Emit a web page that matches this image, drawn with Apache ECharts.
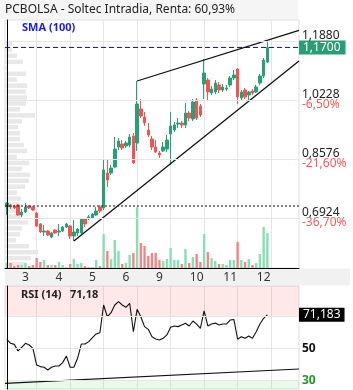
<!DOCTYPE html>
<html>
<head>
<meta charset="utf-8">
<script src="https://cdn.jsdelivr.net/npm/echarts@6/dist/echarts.min.js"></script>
<style>
html, body { margin: 0; padding: 0; background: #fff; }
#main { width: 353px; height: 390px; }
</style>
</head>
<body>
<div id="main"></div>
<script>
// dias del eje x y vela en la que empieza cada uno
var dayLabels = ['3', '4', '5', '6', '9', '10', '11', '12'];
var dayStart = [5, 14, 23, 32, 41, 51, 60, 69];
var slotCount = 79;
var gridSlots = [8, 17, 26, 35, 44, 53, 62, 71];

// velas horarias [apertura, cierre, minimo, maximo]
var candles = [
  [0.7232, 0.7344, 0.7008, 0.7372], [0.7288, 0.7232, 0.7176, 0.7316], [0.7260, 0.7204, 0.7176, 0.7288],
  [0.7288, 0.7008, 0.6980, 0.7316], [0.7008, 0.7092, 0.6952, 0.7176], [0.7092, 0.7232, 0.7064, 0.7344],
  [0.7260, 0.7204, 0.7176, 0.7288], [0.7232, 0.7148, 0.7120, 0.7260], [0.7064, 0.6700, 0.6672, 0.7092],
  [0.6756, 0.6532, 0.6504, 0.6784], [0.6532, 0.6560, 0.6420, 0.6728], [0.6560, 0.6448, 0.6420, 0.6588],
  [0.6392, 0.6504, 0.6364, 0.6532], [0.6588, 0.6504, 0.6476, 0.6616], [0.6532, 0.6560, 0.6420, 0.6756],
  [0.6560, 0.6672, 0.6532, 0.6700], [0.6672, 0.6756, 0.6644, 0.6784], [0.6700, 0.6420, 0.6336, 0.6728],
  [0.6420, 0.6532, 0.6280, 0.6868], [0.6504, 0.6616, 0.6420, 0.6644], [0.6504, 0.6896, 0.6476, 0.6924],
  [0.6896, 0.6756, 0.6672, 0.6924], [0.6896, 0.6952, 0.6868, 0.7008], [0.6924, 0.7036, 0.6896, 0.7064],
  [0.7008, 0.7120, 0.6980, 0.7232], [0.7232, 0.7120, 0.7064, 0.7288], [0.7204, 0.8268, 0.7148, 0.8576],
  [0.8184, 0.7988, 0.7792, 0.8548], [0.8184, 0.8324, 0.8128, 0.8408], [0.8352, 0.8856, 0.8324, 0.9192],
  [0.8912, 0.9080, 0.8828, 0.9164], [0.8996, 0.8884, 0.8828, 0.9108], [0.8940, 0.9024, 0.8884, 0.9080],
  [0.8968, 0.9192, 0.8912, 0.9276], [0.9220, 0.8464, 0.8436, 0.9304], [0.9024, 1.0116, 0.8800, 1.0760],
  [0.9976, 0.9780, 0.9724, 1.0256], [0.9752, 0.9584, 0.9500, 0.9892], [0.9388, 0.9248, 0.9192, 0.9584],
  [0.9136, 0.8912, 0.8828, 0.9220], [0.8912, 0.8772, 0.8744, 0.9108], [0.8744, 0.8688, 0.8604, 0.8800],
  [0.8800, 0.8912, 0.8772, 0.9052], [0.8856, 0.9108, 0.8772, 0.9248], [0.9276, 0.9500, 0.8408, 0.9892],
  [0.9388, 0.9528, 0.9332, 0.9612], [0.9556, 0.9584, 0.9444, 0.9724], [0.9584, 0.9528, 0.9444, 0.9640],
  [0.9528, 0.9864, 0.9444, 1.0144], [0.9864, 0.9724, 0.9640, 0.9920], [0.9696, 1.0172, 0.9640, 1.0256],
  [1.0228, 0.9724, 0.9668, 1.0284], [1.0060, 0.9808, 0.9752, 1.0116], [1.0676, 1.0984, 1.0256, 1.1376],
  [1.0788, 1.0452, 1.0228, 1.0844], [1.0424, 1.0536, 1.0368, 1.0620], [1.0452, 1.0704, 1.0396, 1.0788],
  [1.0648, 1.0508, 1.0424, 1.0732], [1.0508, 1.0592, 1.0452, 1.0676], [1.0536, 1.0564, 1.0480, 1.0648],
  [1.0648, 1.0844, 1.0592, 1.0900], [1.0844, 1.0928, 1.0788, 1.1068], [1.1096, 1.0312, 1.0116, 1.1124],
  [1.0284, 1.0452, 1.0228, 1.0508], [1.0508, 1.0312, 1.0256, 1.0564], [1.0368, 1.0452, 1.0228, 1.0480],
  [1.0480, 1.0424, 1.0368, 1.0536], [1.0452, 1.0592, 1.0424, 1.0648], [1.0704, 1.0900, 1.0648, 1.0956],
  [1.0900, 1.1348, 1.0844, 1.1404], [1.1292, 1.1700, 1.1264, 1.1860]
];

// volumen por vela (miles)
var volumes = [
  50, 50, 20, 30, 30, 50, 20, 30, 100, 60,
  80, 30, 30, 30, 60, 30, 10, 40, 90, 40,
  50, 20, 10, 10, 80, 20, 340, 170, 90, 280,
  170, 40, 50, 130, 150, 610, 250, 220, 120, 150,
  150, 80, 70, 90, 200, 80, 80, 40, 190, 50,
  110, 140, 60, 340, 160, 100, 70, 40, 40, 30,
  80, 80, 260, 80, 60, 90, 30, 50, 140, 410,
  350
];

// RSI(14)
var rsi = [
  55.9, 53.4, 52.7, 48.6, 50.9, 53.4, 52.3, 50.2, 39.8, 38.8,
  38.4, 36.7, 38.4, 39.2, 39.2, 41.3, 45.4, 38.4, 38.4, 44.0,
  52.9, 52.9, 54.4, 56.9, 59.2, 60.0, 77.3, 70.0, 72.5, 77.3,
  79.4, 77.3, 75.9, 78.4, 60.6, 74.6, 70.0, 63.8, 62.1, 57.5,
  56.1, 55.4, 56.5, 58.6, 63.4, 64.2, 63.8, 64.8, 65.9, 64.2,
  67.3, 65.4, 62.7, 73.6, 64.2, 65.4, 66.0, 64.8, 65.4, 65.4,
  67.9, 68.3, 55.9, 57.5, 56.5, 57.9, 56.5, 60.6, 65.4, 69.0,
  71.183
];

// perfil de volumen por precio, de arriba abajo
var profile = [
  70, 70, 120, 180, 30, 210, 120, 220, 210, 220,
  210, 150, 300, 170, 130, 150, 150, 190, 220, 120,
  240, 170, 250, 240, 200, 120, 160, 140, 150, 170,
  230, 170, 150, 110, 240, 330, 260, 200
];

var priceTicks = [0.6924, 0.8576, 1.0228, 1.1880];
var priceTickPct = ['-36,70%', '-21,60%', '-6,50%', ' '];
var rsiTicks = [30, 50, 70];
var lastPrice = 1.17;
var supportLevel = 0.726;
var upperTrend = [[35, 1.076], [78.5, 1.218]];
var lowerTrend = [[18, 0.628], [78.5, 1.1323]];
var rsiTrend = [[-0.5, 28.3], [78.5, 37.3]];

var green = '#26a176', red = '#f05454';
var volGreen = '#86e0b3', volRed = '#f78484';
var gridColor = '#e6e6e6';
var font = 'Noto Sans';

function fmt(v, d) { return v.toFixed(d).replace('.', ','); }

var slots = [];
for (var i = 0; i < slotCount; i++) slots.push(String(i));

var volData = volumes.map(function (v, i) {
  var up = candles[i][1] >= candles[i][0];
  return { value: v, itemStyle: { color: up ? volGreen : volRed } };
});
var rsiData = rsi.map(function (v, i) { return [i, v]; });
var lastRsi = rsi[rsi.length - 1];
var lastPriceLine = [[-0.5, lastPrice], [78.5, lastPrice]];
var supportLine = [[-0.5, supportLevel], [78.5, supportLevel]];

var chart = echarts.init(document.getElementById('main'));
chart.setOption({
  animation: false,
  textStyle: { fontFamily: font },
  title: [
    { text: 'PCBOLSA - Soltec Intradia, Renta: 60,93%', left: 5, top: 4, padding: 0,
      textStyle: { fontSize: 12, fontWeight: 'normal', color: '#222', fontFamily: font } },
    { text: 'SMA (100)', left: 22, top: 22, padding: 0,
      textStyle: { fontSize: 11, fontWeight: 'bold', color: '#1c1ce0', fontFamily: font } },
    { text: 'RSI (14)   71,18', left: 21, top: 289, padding: 0,
      textStyle: { fontSize: 11, fontWeight: 'bold', color: '#222', fontFamily: font } }
  ],
  graphic: [
    { type: 'rect', z: -10, shape: { x: 0, y: 0, width: 298, height: 19 }, style: { fill: '#f5f5f5' } },
    { type: 'rect', z: -10, shape: { x: 5, y: 268.5, width: 345, height: 17 }, style: { fill: '#f1f1f1' } }
  ],
  grid: [
    { left: 5, top: 20, width: 294, height: 248, show: true, borderColor: '#dddddd', backgroundColor: 'transparent' },
    { left: 5, top: 20, width: 294, height: 248 },
    { left: 5, top: 41, width: 294, height: 226 },
    { left: 5, top: 286, width: 294, height: 103, show: true, borderColor: '#dddddd', backgroundColor: 'transparent' }
  ],
  xAxis: [
    { type: 'category', gridIndex: 0, data: slots, boundaryGap: true, z: 5,
      axisLine: { show: true, onZero: false, lineStyle: { color: '#000', width: 1 } },
      axisTick: { show: false }, splitLine: { show: false },
      axisLabel: { interval: 0, margin: 4, fontSize: 12, color: '#333',
        formatter: function (v, idx) { var k = dayStart.indexOf(idx); return k >= 0 ? dayLabels[k] : ''; } } },
    { type: 'category', gridIndex: 1, data: slots, show: false },
    { type: 'value', gridIndex: 2, min: 0, max: 2940, show: false },
    { type: 'value', gridIndex: 3, min: -0.5, max: 78.5, position: 'bottom',
      axisLine: { show: false }, axisLabel: { show: false },
      axisTick: { show: false, customValues: gridSlots },
      splitLine: { show: true, lineStyle: { color: gridColor } } },
    { type: 'value', gridIndex: 0, min: -0.5, max: 78.5, position: 'top',
      axisLine: { show: false }, axisLabel: { show: false },
      axisTick: { show: false, customValues: gridSlots },
      splitLine: { show: true, lineStyle: { color: gridColor } } }
  ],
  yAxis: [
    { type: 'value', gridIndex: 0, position: 'right', min: 0.5524, max: 1.2468, z: 5,
      axisLine: { show: true, lineStyle: { color: '#000', width: 1 } },
      axisTick: { show: false, customValues: priceTicks },
      splitLine: { show: true, lineStyle: { color: gridColor } },
      axisLabel: { customValues: priceTicks, margin: 3, fontSize: 12, color: '#222',
        formatter: function (v) {
          var k = 0;
          for (var j = 0; j < priceTicks.length; j++) if (Math.abs(priceTicks[j] - v) < 1e-6) k = j;
          return '{v|' + fmt(priceTicks[k], 4) + '}\n{p|' + priceTickPct[k] + '}';
        },
        rich: { v: { fontSize: 12, color: '#222', lineHeight: 10 }, p: { fontSize: 12, color: '#f25c5c', lineHeight: 10 } } } },
    { type: 'value', gridIndex: 1, min: 0, max: 2480, show: false },
    { type: 'category', gridIndex: 2, inverse: true, show: false,
      data: profile.map(function (v, i) { return String(i); }) },
    { type: 'value', gridIndex: 3, position: 'right', min: 24.8, max: 89.2, z: 5,
      axisLine: { show: true, lineStyle: { color: '#000', width: 1 } },
      axisTick: { show: false, customValues: rsiTicks },
      splitLine: { show: true, lineStyle: { color: gridColor } },
      axisLabel: { customValues: [30, 50], margin: 3, fontSize: 12,
        formatter: function (v) { return v === 30 ? '{g|30}' : '{b|' + v + '}'; },
        rich: { g: { color: '#1e9a1e', fontWeight: 'bold', fontSize: 12 }, b: { color: '#111', fontWeight: 'bold', fontSize: 12 } } } }
  ],
  series: [
    { type: 'bar', xAxisIndex: 2, yAxisIndex: 2, data: profile, barWidth: 4.5, z: 1, silent: true,
      itemStyle: { color: '#e8e8e8' } },
    { type: 'bar', xAxisIndex: 1, yAxisIndex: 1, data: volData, barWidth: 2.4, z: 2, silent: true },
    { type: 'candlestick', xAxisIndex: 0, yAxisIndex: 0, data: candles, barWidth: 3, z: 3, silent: true,
      itemStyle: { color: green, color0: red, borderColor: green, borderColor0: red, borderWidth: 1 } },
    // precio actual (linea azul discontinua + etiqueta)
    { type: 'line', xAxisIndex: 4, yAxisIndex: 0, data: lastPriceLine, symbol: 'none', z: 4, silent: true,
      lineStyle: { color: '#0000ff', type: [5, 3], width: 1 },
      markLine: { silent: true, symbol: 'none', animation: false,
        lineStyle: { color: 'rgba(0,0,0,0)', width: 0 },
        label: { show: true, position: 'end', distance: 0, color: '#fff', backgroundColor: '#299e76',
          fontSize: 12, padding: [1, 5, 1, 4], fontFamily: font, formatter: fmt(lastPrice, 4) },
        data: [{ yAxis: lastPrice }] } },
    { type: 'line', xAxisIndex: 4, yAxisIndex: 0, data: supportLine, symbol: 'none', z: 4, silent: true,
      lineStyle: { color: '#111', type: [2, 2], width: 1.2 } },
    { type: 'line', xAxisIndex: 4, yAxisIndex: 0, data: upperTrend, symbol: 'none', z: 4, silent: true,
      lineStyle: { color: '#111', width: 1.3 } },
    { type: 'line', xAxisIndex: 4, yAxisIndex: 0, data: lowerTrend, symbol: 'none', z: 4, silent: true,
      lineStyle: { color: '#111', width: 1.3 } },
    { type: 'line', xAxisIndex: 3, yAxisIndex: 3, data: rsiData, symbol: 'none', z: 3, silent: true,
      lineStyle: { color: '#111', width: 1.1 },
      markArea: { silent: true,
        data: [
          [{ yAxis: 70, itemStyle: { color: 'rgba(255,0,0,0.09)' } }, { yAxis: 89.2 }],
          [{ yAxis: 24.8, itemStyle: { color: 'rgba(0,200,0,0.09)' } }, { yAxis: 30 }]
        ] },
      markLine: { silent: true, symbol: 'none', animation: false,
        lineStyle: { color: 'rgba(0,0,0,0)', width: 0 },
        label: { show: true, position: 'end', distance: 0, color: '#fff', backgroundColor: '#000',
          fontSize: 12, padding: [1, 4, 1, 4], fontFamily: font, formatter: fmt(lastRsi, 3) },
        data: [{ yAxis: lastRsi }] } },
    { type: 'line', xAxisIndex: 3, yAxisIndex: 3, data: rsiTrend, symbol: 'none', z: 4, silent: true,
      lineStyle: { color: '#111', width: 1.2 } }
  ]
});
</script>
</body>
</html>
